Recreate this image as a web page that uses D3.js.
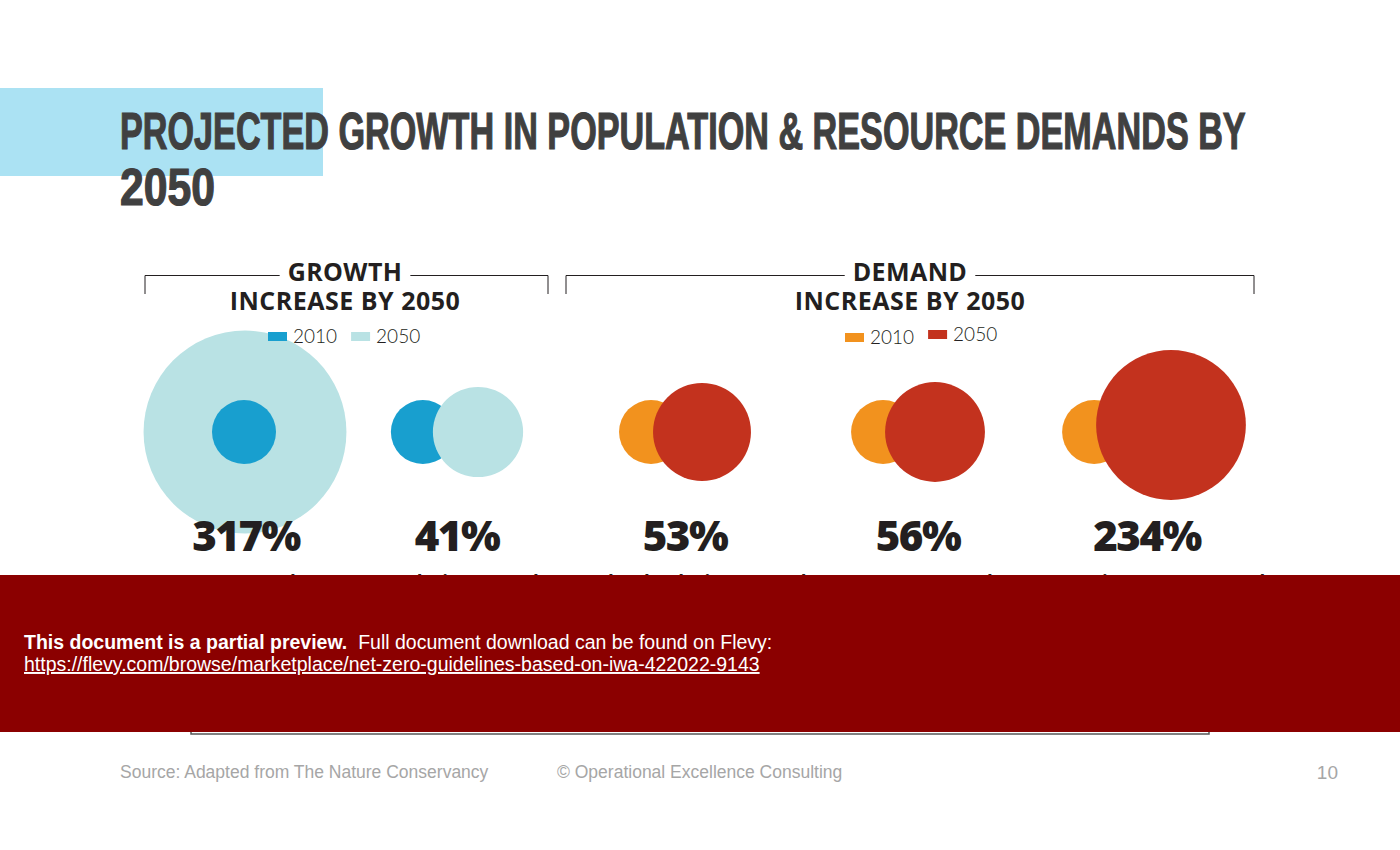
<!DOCTYPE html>
<html>
<head>
<meta charset="utf-8">
<script src="https://cdn.jsdelivr.net/npm/d3@7"></script>
<style>
  html, body { margin: 0; padding: 0; background: #fff; }
  svg { display: block; }
</style>
</head>
<body>
<svg id="chart" width="1400" height="850"></svg>
<script>
// ---------------- data ----------------
const categories = ["GDP growth", "Population growth", "Cropland Calorie Demand", "Energy Demand", "Domestic Water Demand"];
const groups = ["growth", "growth", "demand", "demand", "demand"];
const pctLabels = ["317%", "41%", "53%", "56%", "234%"];
// relative circle size (2010 = 1)
const size2010 = [1, 1, 1, 1, 1];
const size2050 = [3.17, 1.41, 1.53, 1.56, 2.34];
const legendYears = ["2010", "2050"];
const sectionTitles = ["GROWTH", "DEMAND"];
const sectionSubtitles = ["INCREASE BY 2050", "INCREASE BY 2050"];

// ---------------- layout ----------------
const svg = d3.select("#chart");
const colors = {
  growth: ["#189fcf", "#b9e2e4"],
  demand: ["#f2921e", "#c3321e"]
};
const labelX = d3.scaleOrdinal().domain(categories).range([246, 457, 685, 918, 1147]);
const circleNudge = d3.scaleOrdinal().domain(categories).range([0, 0, 0, 0, 7]);
const rScale = d3.scaleLinear().domain([0, 1]).range([0, 32]);
const cy = 432;

// title band
svg.append("rect").attr("x", 0).attr("y", 88).attr("width", 323).attr("height", 88).attr("fill", "#abe2f3");
const titleFont = "'Liberation Sans Narrow', 'Arial Narrow', sans-serif";
function fitTitle(txt, x, y, targetW) {
  const t = svg.append("text").attr("font-family", titleFont).attr("font-weight", 700).attr("font-size", 51)
    .attr("fill", "#404040").attr("stroke", "#404040").attr("stroke-width", 1.2).text(txt);
  const w = t.node().getComputedTextLength();
  t.attr("transform", `translate(${x},${y}) scale(${targetW / w},1)`);
}
fitTitle("PROJECTED GROWTH IN POPULATION & RESOURCE DEMANDS BY", 120, 149, 1126);
fitTitle("2050", 120, 205, 95);

// circles
const data = categories.map((c, i) => ({
  cat: c, group: groups[i], pct: pctLabels[i],
  r0: rScale(size2010[i]), r1: rScale(size2050[i])
}));
data.forEach(d => {
  const g = svg.append("g");
  const col = colors[d.group];
  const x = labelX(d.cat);
  const gx = x + circleNudge(d.cat);
  const concentric = d.group === "growth" && d.r1 > 2.5 * d.r0;
  let c0, c1, y1 = cy;
  if (concentric) {
    c0 = gx - 2; c1 = gx - 1;
    g.append("circle").attr("cx", c1).attr("cy", cy).attr("r", d.r1).attr("fill", col[1]);
    g.append("circle").attr("cx", c0).attr("cy", cy).attr("r", d.r0).attr("fill", col[0]);
  } else {
    const delta = d.r1 + (d.group === "growth" ? 10 : 2);
    const left = -d.r0, right = delta + d.r1;
    const off = gx - (left + right) / 2;
    c0 = off; c1 = off + delta;
    if (d.r1 > 2 * d.r0) y1 = cy - 7;
    g.append("circle").attr("cx", c0).attr("cy", cy).attr("r", d.r0).attr("fill", col[0]);
    g.append("circle").attr("cx", c1).attr("cy", y1).attr("r", d.r1).attr("fill", col[1]);
  }
  g.append("text").attr("x", x).attr("y", 551).attr("text-anchor", "middle")
    .attr("font-family", "'Open Sans', sans-serif").attr("font-weight", 800).attr("font-size", 42)
    .attr("letter-spacing", -1.5).attr("fill", "#231f20").text(d.pct);
  g.append("text").attr("x", x).attr("y", 589).attr("text-anchor", "middle")
    .attr("font-family", "'Open Sans', sans-serif").attr("font-weight", 700).attr("font-size", 19)
    .attr("fill", "#231f20").text(d.cat);
});

// section brackets and legends
const sections = [
  { x0: 145, x1: 548, cx: 345, title: sectionTitles[0], sub: sectionSubtitles[0], key: "growth", legX: 268, legY: 332 },
  { x0: 566, x1: 1254, cx: 910, title: sectionTitles[1], sub: sectionSubtitles[1], key: "demand", legX: 845, legY: 333 }
];
const headFont = "'Open Sans', 'Noto Sans', sans-serif";
sections.forEach(s => {
  const g = svg.append("g");
  const t = g.append("text").attr("x", s.cx).attr("y", 281).attr("text-anchor", "middle")
    .attr("font-family", headFont).attr("font-weight", 700).attr("font-size", 25)
    .attr("letter-spacing", 0.4).attr("fill", "#231f20").text(s.title);
  const w = t.node().getComputedTextLength();
  const gap = 8;
  g.append("path").attr("fill", "none").attr("stroke", "#231f20").attr("stroke-width", 1)
    .attr("d", `M${s.x0},294 V275.5 H${s.cx - w / 2 - gap}`);
  g.append("path").attr("fill", "none").attr("stroke", "#231f20").attr("stroke-width", 1)
    .attr("d", `M${s.cx + w / 2 + gap},275.5 H${s.x1} V294`);
  g.append("text").attr("x", s.cx).attr("y", 310).attr("text-anchor", "middle")
    .attr("font-family", headFont).attr("font-weight", 700).attr("font-size", 25)
    .attr("letter-spacing", 0.5).attr("fill", "#231f20").text(s.sub);
  let lx = s.legX;
  legendYears.forEach((yr, i) => {
    const dy = (s.key === "demand" && i === 1) ? -3 : 0;
    g.append("rect").attr("x", lx).attr("y", s.legY + dy).attr("width", 19).attr("height", 9)
      .attr("fill", colors[s.key][i]);
    const lt = g.append("text").attr("x", lx + 25).attr("y", s.legY + 11 + dy)
      .attr("font-family", "'Lato', 'Open Sans', sans-serif").attr("font-weight", 300).attr("font-size", 19)
      .attr("fill", "#231f20").text(yr);
    lx += 25 + lt.node().getComputedTextLength() + 14;
  });
});

// hidden box edge below banner
svg.append("rect").attr("x", 191).attr("y", 600).attr("width", 1018).attr("height", 134)
  .attr("fill", "#fff").attr("stroke", "#555").attr("stroke-width", 1.5);

// preview banner
svg.append("rect").attr("x", 0).attr("y", 575).attr("width", 1400).attr("height", 157).attr("fill", "#8b0000");
const bannerFont = "'Liberation Sans', Arial, sans-serif";
const bt = svg.append("text").attr("x", 24).attr("y", 649)
  .attr("font-family", bannerFont).attr("font-size", 19.5).attr("fill", "#fff");
bt.append("tspan").attr("font-weight", 700).text("This document is a partial preview.");
bt.append("tspan").text("\u00a0 Full document download can be found on Flevy:");
svg.append("text").attr("x", 24).attr("y", 671)
  .attr("font-family", bannerFont).attr("font-size", 19.5).attr("fill", "#fff")
  .attr("text-decoration", "underline")
  .text("https://flevy.com/browse/marketplace/net-zero-guidelines-based-on-iwa-422022-9143");

// footer
const footFont = "'Liberation Sans', Arial, sans-serif";
svg.append("text").attr("x", 120).attr("y", 778).attr("font-family", footFont).attr("font-size", 17.5)
  .attr("fill", "#a6a6a6").text("Source: Adapted from The Nature Conservancy");
svg.append("text").attr("x", 557).attr("y", 778).attr("font-family", footFont).attr("font-size", 17.5)
  .attr("fill", "#a6a6a6").text("\u00a9 Operational Excellence Consulting");
svg.append("text").attr("x", 1338).attr("y", 779).attr("text-anchor", "end").attr("font-family", footFont).attr("font-size", 19)
  .attr("fill", "#a6a6a6").text("10");
</script>
</body>
</html>
